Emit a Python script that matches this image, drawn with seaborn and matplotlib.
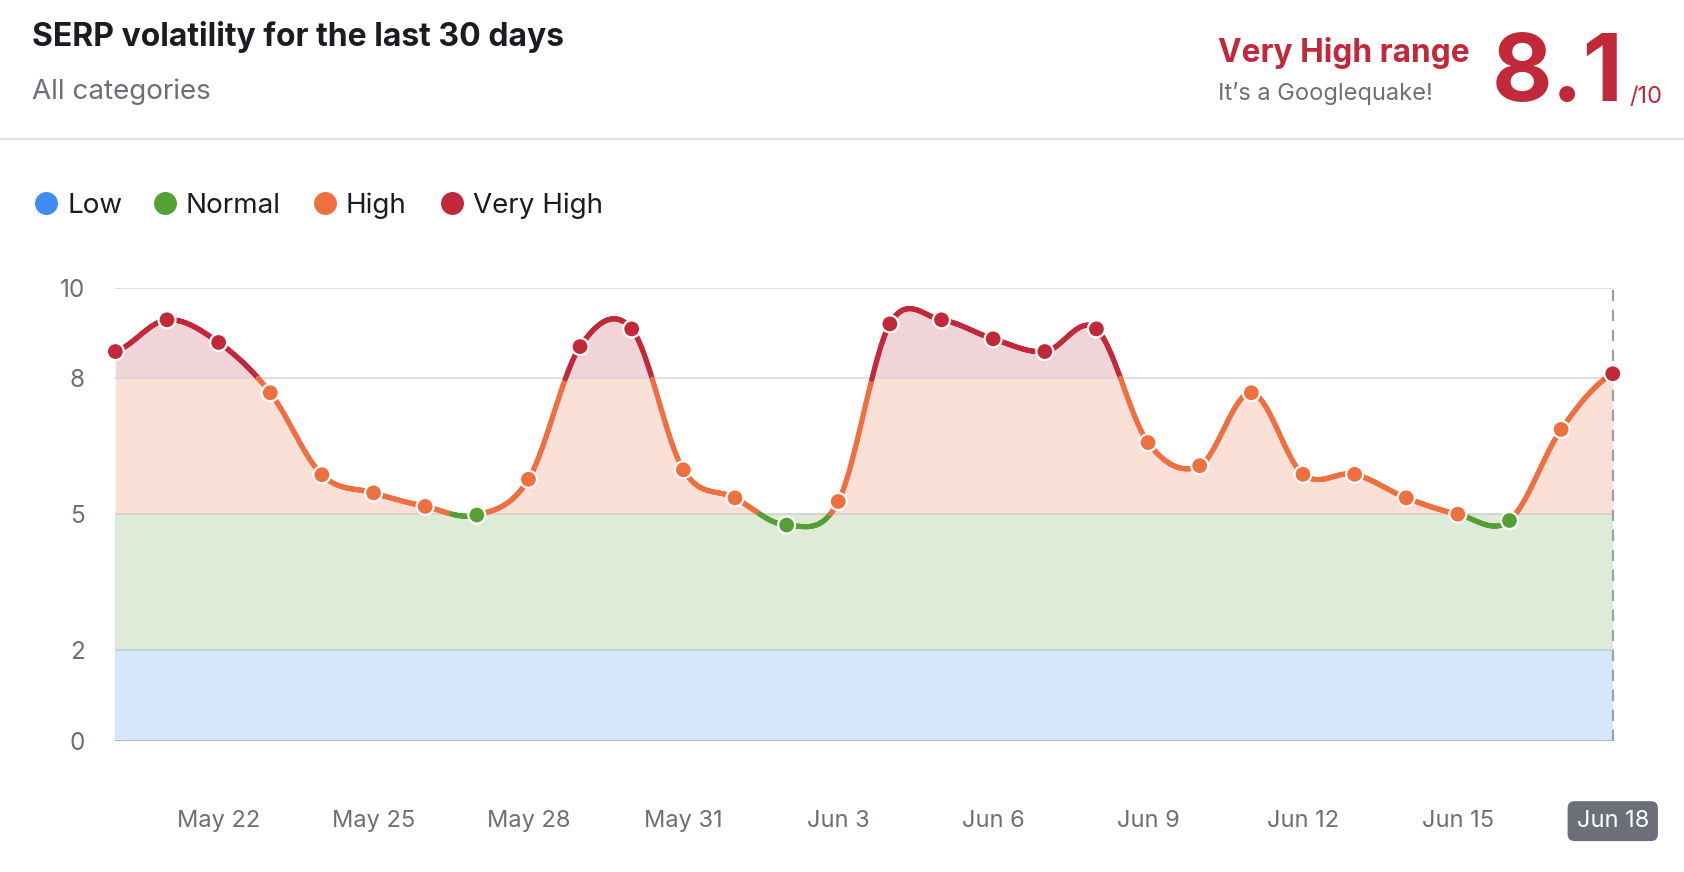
import matplotlib
matplotlib.use("Agg")
import matplotlib.pyplot as plt
from matplotlib.collections import LineCollection
from matplotlib.lines import Line2D
import numpy as np
import pandas as pd
import seaborn as sns

# data
days = ["May 20", "May 21", "May 22", "May 23", "May 24", "May 25", "May 26", "May 27",
        "May 28", "May 29", "May 30", "May 31", "Jun 1", "Jun 2", "Jun 3", "Jun 4",
        "Jun 5", "Jun 6", "Jun 7", "Jun 8", "Jun 9", "Jun 10", "Jun 11", "Jun 12",
        "Jun 13", "Jun 14", "Jun 15", "Jun 16", "Jun 17", "Jun 18"]
volatility = [8.59, 9.29, 8.79, 7.68, 5.87, 5.47, 5.17, 4.98, 5.77, 8.70,
              9.09, 5.98, 5.36, 4.76, 5.28, 9.20, 9.29, 8.87, 8.59, 9.09,
              6.58, 6.07, 7.68, 5.88, 5.88, 5.36, 5.00, 4.86, 6.87, 8.10]
tick_days = ["May 22", "May 25", "May 28", "May 31", "Jun 3", "Jun 6",
             "Jun 9", "Jun 12", "Jun 15", "Jun 18"]
zone_names = ["Low", "Normal", "High", "Very High"]
zone_edges = [0, 2, 5, 8, 10]
line_colors = ["#3d8ef0", "#55a034", "#ee7040", "#c1283a"]
fill_colors = ["#d6e6fb", "#deecd7", "#fae0d7", "#f0d4d8"]
y_ticks = [0, 2, 5, 8, 10]

RED = "#c1283a"
GRAY = "#6b6f7a"


def zone_of(v):
    return int(np.clip(np.searchsorted(zone_edges, v, side="right") - 1, 0, 3))


def catmull_rom(y, n=60):
    y = np.asarray(y, float)
    xs, ys = [], []
    t = np.linspace(0, 1, n, endpoint=False)
    for i in range(len(y) - 1):
        p0 = y[i - 1] if i > 0 else y[i]
        p1, p2 = y[i], y[i + 1]
        p3 = y[i + 2] if i + 2 < len(y) else y[i + 1]
        m1 = (p2 - p0) / 2
        m2 = (p3 - p1) / 2
        h00 = 2 * t**3 - 3 * t**2 + 1
        h10 = t**3 - 2 * t**2 + t
        h01 = -2 * t**3 + 3 * t**2
        h11 = t**3 - t**2
        xs.append(i + t)
        ys.append(h00 * p1 + h10 * m1 + h01 * p2 + h11 * m2)
    xs.append([len(y) - 1])
    ys.append([y[-1]])
    return np.concatenate(xs), np.concatenate(ys)


df = pd.DataFrame({"day": np.arange(len(days)), "label": days, "value": volatility})
df["zone"] = [zone_names[zone_of(v)] for v in df["value"]]

sns.set_theme(style="white")
plt.rcParams["font.family"] = ["Inter", "DejaVu Sans"]

fig = plt.figure(figsize=(16.84, 8.72), dpi=100)
ax = fig.add_axes([0.0685, 0.1506, 0.8892, 0.5195])

cx, cy = catmull_rom(volatility)

# zone bands / fills
ax.axhspan(0, 2, color=fill_colors[0], lw=0, zorder=0)
ax.axhspan(2, 5, color=fill_colors[1], lw=0, zorder=0)
ax.fill_between(cx, 5, np.clip(cy, 5, 8), color=fill_colors[2], lw=0, zorder=0)
ax.fill_between(cx, 8, np.maximum(cy, 8), color=fill_colors[3], lw=0, zorder=0)

# grid and band edges
for yv in (10, 8):
    ax.axhline(yv, color="#d5d6de", lw=1.3, alpha=0.85, zorder=1)
ax.axhline(5, color="#cfcfc8", lw=1.1, zorder=1)
ax.axhline(2, color="#bccde4", lw=1.1, zorder=1)
ax.axhline(0, color="#a9bbd6", lw=1.4, zorder=1)
ax.vlines(len(days) - 1, 0, 10, color="#9ba0ac", lw=1.6, linestyles=(0, (5, 4)),
          zorder=2, clip_on=False)

# spline coloured by zone
pts = np.column_stack([cx, cy])
segs = np.stack([pts[:-1], pts[1:]], axis=1)
mid = (cy[:-1] + cy[1:]) / 2
seg_colors = [line_colors[zone_of(v)] for v in mid]
lc = LineCollection(segs, colors=seg_colors, linewidths=3.7, capstyle="round",
                    joinstyle="round", zorder=3)
ax.add_collection(lc)

sns.scatterplot(data=df, x="day", y="value", hue="zone",
                palette=dict(zip(zone_names, line_colors)), s=150,
                edgecolor="white", linewidth=1.6, legend=False, zorder=4,
                clip_on=False, ax=ax)

ax.set_xlim(0, len(days) - 1)
ax.set_ylim(0, 10)
ax.set_xlabel("")
ax.set_ylabel("")
sns.despine(ax=ax, left=True, bottom=True, top=True, right=True)

ax.set_yticks(y_ticks)
ax.set_yticklabels([str(v) for v in y_ticks])
ax.tick_params(axis="y", length=0, pad=22, labelsize=17.5, labelcolor=GRAY)
ax.set_xticks([days.index(d) for d in tick_days])
ax.set_xticklabels(tick_days)
ax.tick_params(axis="x", length=0, pad=50, labelsize=17, labelcolor=GRAY)
last = ax.get_xticklabels()[-1]
last.set_color("white")
last.set_bbox(dict(boxstyle="round,pad=0.38,rounding_size=0.3", fc="#6c6f7a", ec="none"))

# header
fig.text(32 / 1684, 1 - 46 / 872, "SERP volatility for the last 30 days",
         fontsize=23, weight="bold", color="#1b1c22", va="baseline")
fig.text(32 / 1684, 1 - 99 / 872, "All categories", fontsize=20, color=GRAY, va="baseline")
fig.text(1218 / 1684, 1 - 62 / 872, "Very High range", fontsize=22.8, weight="bold",
         color=RED, va="baseline")
fig.text(1218 / 1684, 1 - 100 / 872, "It\u2019s a Googlequake!", fontsize=17,
         color=GRAY, va="baseline")
fig.text(1624 / 1684, 1 - 101 / 872, "8.1", fontsize=67, weight="bold", color=RED,
         ha="right", va="baseline")
fig.text(1629 / 1684, 1 - 103 / 872, "/10", fontsize=17, color=RED, va="baseline")
fig.add_artist(Line2D([0, 1], [1 - 139 / 872] * 2, color="#e1e2e8", lw=1.5,
                      transform=fig.transFigure))

# legend
leg_x = [46, 165, 325, 452]
for name, col, lx in zip(zone_names, line_colors, leg_x):
    fig.add_artist(Line2D([lx / 1684], [1 - 203 / 872], marker="o", markersize=15.5,
                          color=col, lw=0, transform=fig.transFigure))
    fig.text((lx + 21) / 1684, 1 - 203 / 872, name, fontsize=20, color="#1b1c22",
             va="center_baseline")

fig.savefig("out.png", dpi=100, facecolor="white")
